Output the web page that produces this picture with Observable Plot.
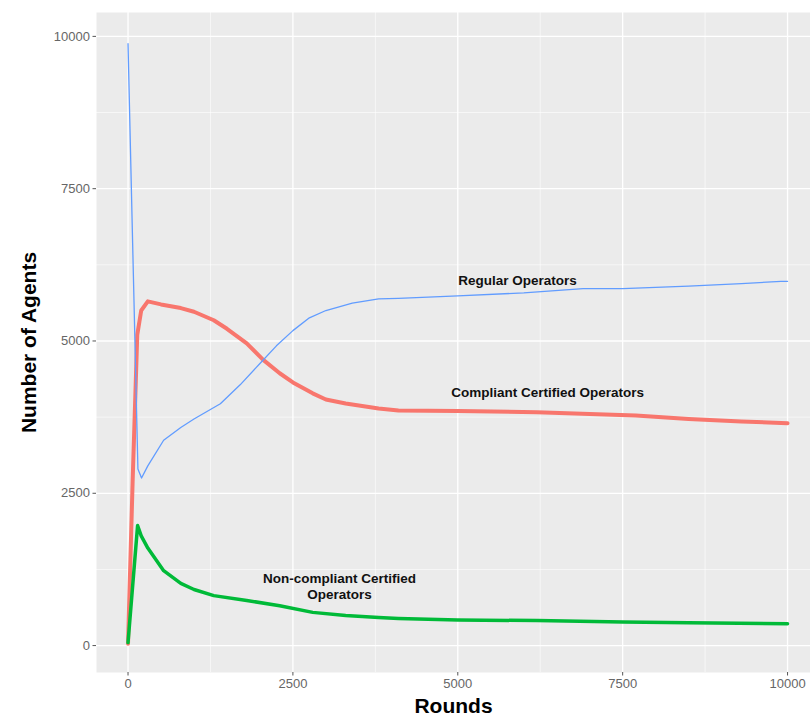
<!DOCTYPE html>
<html>
<head>
<meta charset="utf-8">
<script src="https://cdn.jsdelivr.net/npm/d3@7"></script>
<script src="https://cdn.jsdelivr.net/npm/@observablehq/plot@0.6"></script>
<style>
  html, body { margin: 0; padding: 0; background: #fff; }
  svg { font-family: "Liberation Sans", Arial, sans-serif; }
</style>
</head>
<body>
<div id="chart"></div>
<script>
// Regular Operators (blue)
const regularRounds = [0, 70, 150, 205, 300, 540, 800, 1000, 1400, 1700, 2000, 2250, 2500, 2750, 3000, 3400, 3800, 4100, 5000, 6000, 6900, 7500, 8500, 9300, 9900, 10000];
const regularValues = [9880, 6600, 2900, 2750, 2950, 3370, 3580, 3720, 3970, 4280, 4630, 4920, 5170, 5380, 5500, 5620, 5690, 5700, 5740, 5790, 5860, 5860, 5900, 5940, 5980, 5980];

// Compliant Certified Operators (red)
const compliantRounds = [0, 70, 140, 200, 300, 500, 800, 1000, 1300, 1500, 1800, 2050, 2300, 2500, 2800, 3000, 3300, 3800, 4100, 5000, 6200, 7000, 7700, 8500, 9300, 10000];
const compliantValues = [30, 2700, 5100, 5500, 5650, 5600, 5540, 5480, 5340, 5200, 4960, 4690, 4470, 4320, 4140, 4040, 3975, 3890, 3860, 3850, 3830, 3800, 3775, 3720, 3680, 3650];

// Non-compliant Certified Operators (green)
const noncompRounds = [0, 145, 200, 300, 540, 800, 1000, 1300, 1800, 2300, 2800, 3300, 3800, 4100, 5000, 6200, 7500, 8500, 10000];
const noncompValues = [50, 1970, 1800, 1600, 1230, 1020, 920, 820, 740, 655, 545, 495, 460, 445, 420, 410, 385, 375, 360];

const majorTicks = [0, 2500, 5000, 7500, 10000];
const minorTicks = [1250, 3750, 6250, 8750];

const labelTexts = ["Regular Operators", "Compliant Certified Operators", "Non-compliant Certified\nOperators"];
const labelX = [5906, 6361, 3207];
const labelY = [6010, 4170, 985];

const toRows = (rs, vs) => rs.map((r, i) => ({round: r, value: vs[i]}));
const regular = toRows(regularRounds, regularValues);
const compliant = toRows(compliantRounds, compliantValues);
const noncomp = toRows(noncompRounds, noncompValues);
const labels = labelTexts.map((t, i) => ({text: t, x: labelX[i], y: labelY[i]}));

const chart = Plot.plot({
  width: 810,
  height: 724,
  marginLeft: 96,
  marginRight: 0,
  marginTop: 12,
  marginBottom: 52,
  x: {domain: [-478, 10348], ticks: majorTicks, tickFormat: d => String(d)},
  y: {domain: [-442, 10392], ticks: majorTicks, tickFormat: d => String(d)},
  marks: [
    Plot.frame({fill: "#EBEBEB", stroke: null}),
    Plot.ruleY(minorTicks, {stroke: "#fff", strokeWidth: 0.6}),
    Plot.ruleX(minorTicks, {stroke: "#fff", strokeWidth: 0.6}),
    Plot.ruleY(majorTicks, {stroke: "#fff", strokeWidth: 1.3}),
    Plot.ruleX(majorTicks, {stroke: "#fff", strokeWidth: 1.3}),
    Plot.axisX(majorTicks, {tickSize: 3.5, tickPadding: 3, fontSize: 13, color: "#666", stroke: "#555", label: null, tickFormat: d => String(d)}),
    Plot.axisY(majorTicks, {tickSize: 3.5, tickPadding: 3, fontSize: 13, color: "#666", stroke: "#555", label: null, tickFormat: d => String(d)}),
    Plot.line(compliant, {x: "round", y: "value", stroke: "#F8766D", strokeWidth: 4}),
    Plot.line(noncomp, {x: "round", y: "value", stroke: "#00BA38", strokeWidth: 3.5}),
    Plot.line(regular, {x: "round", y: "value", stroke: "#619CFF", strokeWidth: 1.3}),
    Plot.text(labels, {x: "x", y: "y", text: "text", fontWeight: "bold", fontSize: 13.5, fill: "#111", lineHeight: 1.2}),
    Plot.text(["Number of Agents"], {frameAnchor: "left", dx: -67, rotate: -90, textAnchor: "middle", fontWeight: "bold", fontSize: 21, fill: "#000"}),
    Plot.text(["Rounds"], {frameAnchor: "bottom", dy: 40, textAnchor: "middle", fontWeight: "bold", fontSize: 21, fill: "#000"})
  ]
});
document.getElementById("chart").appendChild(chart);
</script>
</body>
</html>
